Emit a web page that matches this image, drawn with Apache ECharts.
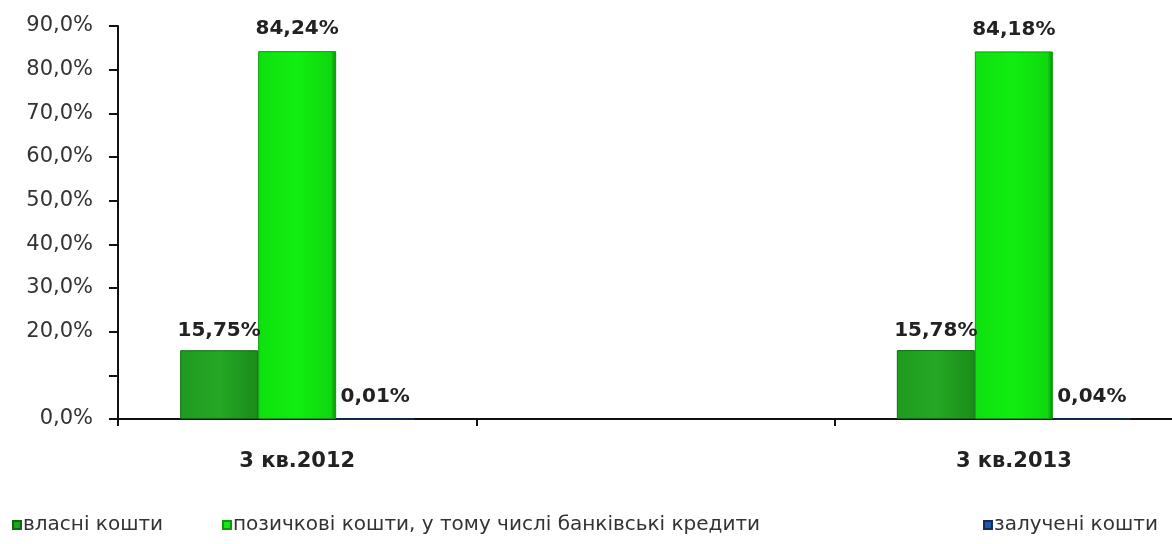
<!DOCTYPE html>
<html>
<head>
<meta charset="utf-8">
<script src="https://cdn.jsdelivr.net/npm/echarts@6/dist/echarts.min.js"></script>
<style>
  html, body { margin: 0; padding: 0; background: #fff; overflow: hidden; }
  /* plot area runs past the right edge of the window, as in the source */
  #chart { width: 1193px; height: 544px; }
</style>
</head>
<body>
<div id="chart"></div>
<script>
// periods (middle slot is an empty category in the source chart)
const categories = ['3 кв.2012', '', '3 кв.2013'];
const ownFunds = [15.75, null, 15.78];
const loanFunds = [84.24, null, 84.18];
const raisedFunds = [0.01, null, 0.04];
const seriesNames = ['власні кошти', 'позичкові кошти, у тому числі банківські кредити', 'залучені кошти'];

const font = 'DejaVu Sans, Verdana, sans-serif';
const fmt = (v) => v.toFixed(2).replace('.', ',') + '%';
const labelStyle = {
  show: true,
  position: 'top',
  distance: 9,
  color: '#222',
  fontFamily: font,
  fontWeight: 'bold',
  fontSize: 20,
  formatter: (p) => fmt(p.value)
};

const chart = echarts.init(document.getElementById('chart'));
const legendBase = {
  top: 510,
  icon: 'rect',
  itemWidth: 8,
  itemHeight: 8,
  itemGap: 0,
  textStyle: { color: '#333', fontSize: 20, fontFamily: font, padding: [0, 0, 0, -3] }
};

chart.setOption({
  animation: false,
  backgroundColor: '#fff',
  legend: [
    Object.assign({}, legendBase, { left: 7, data: [seriesNames[0]] }),
    Object.assign({}, legendBase, { left: 217, data: [seriesNames[1]] }),
    Object.assign({}, legendBase, { left: 978, data: [seriesNames[2]] })
  ],
  grid: { left: 118, top: 26, bottom: 125, right: 0 },
  xAxis: {
    type: 'category',
    data: categories,
    axisLine: { lineStyle: { color: '#111', width: 2 } },
    axisTick: { show: true, length: 7, lineStyle: { color: '#111', width: 2 } },
    axisLabel: {
      margin: 32,
      color: '#222',
      fontWeight: 'bold',
      fontSize: 21,
      fontFamily: font
    }
  },
  yAxis: {
    type: 'value',
    min: 0,
    max: 90,
    interval: 10,
    splitLine: { show: false },
    axisLine: { show: true, lineStyle: { color: '#111', width: 2 } },
    axisTick: { show: true, length: 9, lineStyle: { color: '#111', width: 2 } },
    axisLabel: {
      margin: 25,
      color: '#333',
      fontSize: 21,
      fontFamily: font,
      formatter: (v) => v === 10 ? '' : v.toFixed(1).replace('.', ',') + '%'
    }
  },
  series: [
    {
      name: seriesNames[0],
      type: 'bar',
      data: ownFunds,
      barWidth: 78,
      barGap: '0%',
      itemStyle: {
        color: new echarts.graphic.LinearGradient(0, 0, 1, 0, [
          { offset: 0, color: '#1f9a1f' },
          { offset: 0.5, color: '#25a825' },
          { offset: 1, color: '#1a8c1a' }
        ]),
        borderColor: '#0f6a0f',
        borderWidth: 1
      },
      label: labelStyle
    },
    {
      name: seriesNames[1],
      type: 'bar',
      data: loanFunds,
      barWidth: 78,
      barGap: '0%',
      itemStyle: {
        color: new echarts.graphic.LinearGradient(0, 0, 1, 0, [
          { offset: 0, color: '#0fe00f' },
          { offset: 0.5, color: '#11ee11' },
          { offset: 0.93, color: '#0fd80f' },
          { offset: 1, color: '#0a8a0a' }
        ]),
        borderColor: '#0b9a0b',
        borderWidth: 1
      },
      label: Object.assign({}, labelStyle, { distance: 12 })
    },
    {
      name: seriesNames[2],
      type: 'bar',
      data: raisedFunds,
      barWidth: 78,
      barGap: '0%',
      itemStyle: { color: '#1f5aa8', borderColor: '#10305a', borderWidth: 1 },
      label: Object.assign({}, labelStyle, { distance: 12 })
    }
  ]
});
</script>
</body>
</html>
